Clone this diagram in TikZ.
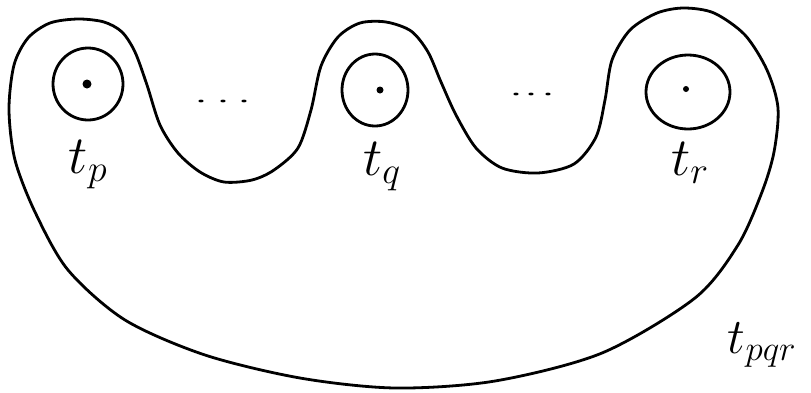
\documentclass[tikz,border=0pt]{standalone}
\usepackage{fix-cm}
\begin{document}
\begin{tikzpicture}[x=1pt,y=-1pt,
  stroke/.style={line width=2.8pt, line join=round},
  lab/.style={inner sep=0pt, font=\fontsize{54}{60}\selectfont},
  labbig/.style={inner sep=0pt, font=\fontsize{50}{56}\selectfont}]
\useasboundingbox (0,0) rectangle (811,392);
% outer boundary
\draw[stroke] plot[smooth cycle, tension=0.5] coordinates {
  (9,110) (14,65) (28,38) (50,23) (78,19) (104,22) (122,32) (135,52)
  (147,85) (160,125) (178,153) (200,172) (224,182) (252,180) (274,170)
  (298,148) (311,110) (321,66) (338,37) (360,23) (386,22) (411,31)
  (428,52) (441,82) (456,115) (476,148) (502,168) (538,173)
  (574,164) (596,137) (605,100) (612,60) (630,30) (657,13) (684,8)
  (714,13) (745,35) (767,70) (778,108) (774,152) (762,192)
  (738,245) (695,298) (602,353) (495,381) (395,388) (300,378)
  (205,355) (125,320) (68,270) (35,212) (15,160)};
% small circles
\draw[stroke] (88,84) ellipse [x radius=35, y radius=36];
\draw[stroke] (375,90) ellipse [x radius=33, y radius=36];
\draw[stroke] (688,92) ellipse [x radius=42, y radius=37];
% punctures
\fill (87,84) circle (4.5);
\fill (380,90) circle (3.5);
\fill (686,89) circle (3);
% ellipsis dots
\foreach \x in {201,223,244} \fill (\x,101) ellipse [x radius=2.6, y radius=1.4];
\foreach \x in {516,531,548} \fill (\x,94) ellipse [x radius=2.6, y radius=1.4];
% labels
\node[lab] (tp) at (88,165) {$t_{p}$};
\node[lab] (tq) at (382,167) {$t_{q}$};
\node[lab] (tr) at (690,163) {$t_{r}$};
\node[labbig] (tpqr) at (762,345) {$t_{pqr}$};
\end{tikzpicture}
\end{document}
